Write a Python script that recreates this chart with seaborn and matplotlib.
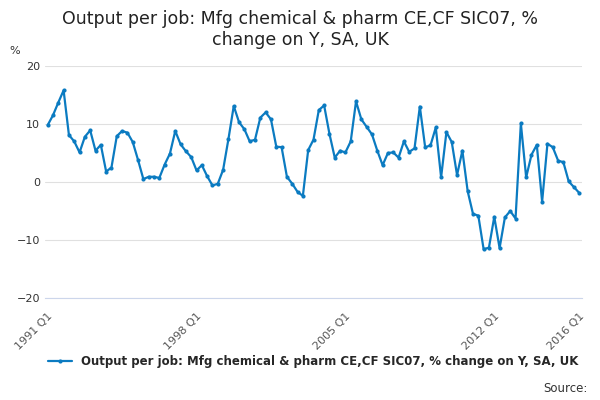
import numpy as np
import pandas as pd
import seaborn as sns
import matplotlib.pyplot as plt

values = [9.8, 11.5, 13.7, 15.8,
          8.1, 7.0, 5.1, 7.8,
          8.9, 5.4, 6.4, 1.8,
          2.5, 7.9, 8.8, 8.5,
          6.9, 3.8, 0.5, 0.9,
          0.9, 0.7, 3.0, 4.9,
          8.8, 6.5, 5.3, 4.3,
          2.0, 2.9, 1.0, -0.6,
          -0.3, 2.1, 7.4, 13.1,
          10.3, 9.1, 7.0, 7.3,
          11.1, 12.0, 10.8, 6.1,
          6.0, 0.9, -0.3, -1.7,
          -2.4, 5.5, 7.3, 12.4,
          13.2, 8.3, 4.2, 5.4,
          5.1, 7.0, 13.9, 10.8,
          9.5, 8.2, 5.4, 2.9,
          5.0, 5.1, 4.2, 7.0,
          5.2, 5.8, 13.0, 6.0,
          6.3, 9.4, 0.8, 8.6,
          6.9, 1.2, 5.4, -1.6,
          -5.5, -5.8, -11.6, -11.3,
          -6.0, -11.4, -6.1, -5.0,
          -6.3, 10.1, 0.8, 4.7,
          6.4, -3.4, 6.6, 6.0,
          3.7, 3.4, 0.1, -0.9,
          -1.9]
quarters = [f"{1991 + i // 4} Q{i % 4 + 1}" for i in range(len(values))]
tick_labels = ["1991 Q1", "1998 Q1", "2005 Q1", "2012 Q1", "2016 Q1"]
series = "Output per job: Mfg chemical & pharm CE,CF SIC07, % change on Y, SA, UK"

df = pd.DataFrame({"idx": range(len(values)), "value": values})

sns.set_style("white")
fig, ax = plt.subplots(figsize=(6, 4), dpi=100)
fig.subplots_adjust(left=0.075, right=0.97, top=0.835, bottom=0.255)
color = "#0b7bc1"
sns.lineplot(data=df, x="idx", y="value", ax=ax, color=color, marker="o",
             markersize=3, markeredgewidth=0, linewidth=1.6, label=series)

ax.set_ylim(-20, 20)
ax.set_yticks([-20, -10, 0, 10, 20])
ax.set_xlim(-0.5, len(values) - 0.5)
ax.yaxis.grid(True, color="#e0e0e0", linewidth=0.8)
ax.tick_params(axis="y", length=0, labelsize=8, colors="#333333")
pos = [quarters.index(t) for t in tick_labels]
ax.set_xticks(pos)
ax.set_xticklabels(tick_labels, rotation=45, ha="right", rotation_mode="anchor",
                   fontsize=8, color="#555555")
ax.set_xticks(range(0, len(values), 7), minor=True)
ax.tick_params(axis="x", which="both", length=6, color="#ccd6eb", direction="out")
for s in ["top", "right", "left"]:
    ax.spines[s].set_visible(False)
ax.spines["bottom"].set_color("#ccd6eb")
ax.set_xlabel("")
ax.set_ylabel("")
fig.text(0.015, 0.865, "%", fontsize=8, color="#333333")

fig.suptitle("Output per job: Mfg chemical & pharm CE,CF SIC07, %\nchange on Y, SA, UK",
             fontsize=12.5, color="#222222", y=0.975)
ax.legend(loc="upper center", bbox_to_anchor=(0.5, -0.2), frameon=False,
          prop={"weight": "bold", "size": 8.5}, handlelength=2)
fig.text(0.98, 0.02, "Source:", ha="right", fontsize=8.5, color="#333333")
fig.savefig("out.png")
